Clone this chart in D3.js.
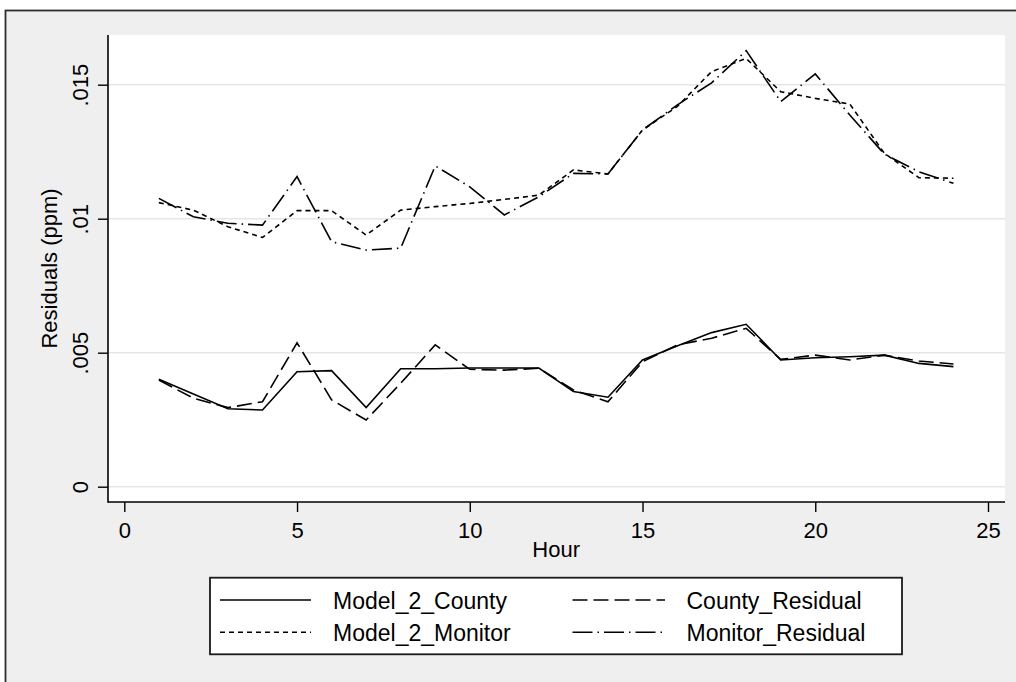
<!DOCTYPE html>
<html>
<head>
<meta charset="utf-8">
<script src="https://cdn.jsdelivr.net/npm/d3@7"></script>
<style>
  html, body { margin: 0; padding: 0; background: #ffffff; }
  svg { display: block; }
  text { font-family: "Liberation Sans", Arial, sans-serif; fill: #000; }
</style>
</head>
<body>
<svg id="chart" width="1016" height="682"></svg>
<script>
// Hourly residuals (ppm) for the two models and their residual series
const hours = [1,2,3,4,5,6,7,8,9,10,11,12,13,14,15,16,17,18,19,20,21,22,23,24];

const model2County = [0.00401,0.00346,0.00291,0.00286,0.00429,0.00433,0.00295,0.00440,0.00440,0.00443,0.00443,0.00443,
                      0.00355,0.00334,0.00473,0.00525,0.00575,0.00606,0.00473,0.00481,0.00485,0.00491,0.00460,0.00448];
const countyResidual = [0.00398,0.00330,0.00295,0.00317,0.00537,0.00324,0.00249,0.00386,0.00529,0.00438,0.00435,0.00442,
                        0.00361,0.00317,0.00466,0.00529,0.00554,0.00591,0.00475,0.00491,0.00473,0.00491,0.00469,0.00458];
const model2Monitor = [0.01060,0.01032,0.00970,0.00930,0.01030,0.01030,0.00939,0.01032,0.01045,0.01057,0.01072,0.01088,
                       0.01182,0.01167,0.01331,0.01418,0.01549,0.01598,0.01474,0.01449,0.01428,0.01244,0.01153,0.01151];
const monitorResidual = [0.01076,0.01007,0.00983,0.00976,0.01157,0.00914,0.00883,0.00890,0.01197,0.01119,0.01014,0.01082,
                         0.01169,0.01167,0.01331,0.01424,0.01507,0.01627,0.01437,0.01540,0.01387,0.01241,0.01175,0.01132];

const xTicks = [0, 5, 10, 15, 20, 25];
const yTicks = [0, 0.005, 0.01, 0.015];
const yTickLabels = ["0", ".005", ".01", ".015"];

const seriesNames = ["Model_2_County", "County_Residual", "Model_2_Monitor", "Monitor_Residual"];
const seriesValues = [model2County, countyResidual, model2Monitor, monitorResidual];
const seriesDash = [null, "15,6", "5,4", "20,5,1.5,5"];

const svg = d3.select("#chart");

// outer graph region with frame
svg.append("rect")
  .attr("x", 5.5).attr("y", 10.5)
  .attr("width", 1100).attr("height", 1000)
  .attr("fill", "#efefef")
  .attr("stroke", "#2e2e2e").attr("stroke-width", 1.8);

// plot region
const plot = { left: 108, top: 35, right: 1005, bottom: 502 };
svg.append("rect")
  .attr("x", plot.left).attr("y", plot.top)
  .attr("width", plot.right - plot.left).attr("height", plot.bottom - plot.top)
  .attr("fill", "#ffffff");

const x = d3.scaleLinear().domain([0, 25]).range([124.3, 988]);
const y = d3.scaleLinear().domain([0, 0.015]).range([486.7, 84.7]);

// horizontal grid lines
svg.append("g").selectAll("line").data(yTicks).join("line")
  .attr("x1", plot.left).attr("x2", plot.right)
  .attr("y1", d => y(d)).attr("y2", d => y(d))
  .attr("stroke", "#e6e6e6").attr("stroke-width", 1.5);

const tickFont = "22px";

// y axis
const yAxis = svg.append("g")
  .attr("transform", `translate(${plot.left},0)`)
  .call(d3.axisLeft(y).tickValues(yTicks).tickSize(10).tickPadding(0)
        .tickFormat((d, i) => yTickLabels[i]));
yAxis.select(".domain").remove();
yAxis.selectAll(".tick line").attr("stroke", "#000").attr("stroke-width", 1.4);
yAxis.selectAll(".tick text")
  .attr("x", 0).attr("y", 0)
  .attr("transform", "translate(-20,0) rotate(-90)")
  .attr("text-anchor", "middle")
  .attr("dy", 0)
  .style("font-size", tickFont)
  .style("font-family", "'Liberation Sans', Arial, sans-serif");

// x axis
const xAxis = svg.append("g")
  .attr("transform", `translate(0,${plot.bottom})`)
  .call(d3.axisBottom(x).tickValues(xTicks).tickSize(10).tickPadding(0)
        .tickFormat(d3.format("d")));
xAxis.select(".domain").remove();
xAxis.selectAll(".tick line").attr("stroke", "#000").attr("stroke-width", 1.4);
xAxis.selectAll(".tick text")
  .attr("y", 36).attr("dy", 0)
  .style("font-size", tickFont)
  .style("font-family", "'Liberation Sans', Arial, sans-serif");

// axis lines
svg.append("line")
  .attr("x1", plot.left).attr("x2", plot.left)
  .attr("y1", plot.top).attr("y2", plot.bottom + 0.7)
  .attr("stroke", "#000").attr("stroke-width", 1.6);
svg.append("line")
  .attr("x1", plot.left).attr("x2", plot.right)
  .attr("y1", plot.bottom).attr("y2", plot.bottom)
  .attr("stroke", "#000").attr("stroke-width", 1.6);

// axis titles
svg.append("text")
  .attr("x", (x(0) + x(25)) / 2).attr("y", 557)
  .attr("text-anchor", "middle")
  .style("font-size", "22px")
  .text("Hour");
svg.append("text")
  .attr("transform", `translate(57,${(plot.top + plot.bottom) / 2}) rotate(-90)`)
  .attr("text-anchor", "middle")
  .style("font-size", "22px")
  .text("Residuals (ppm)");

// series lines
const line = d3.line()
  .x((d, i) => x(hours[i]))
  .y(d => y(d));

svg.append("g").selectAll("path").data(seriesValues).join("path")
  .attr("d", d => line(d))
  .attr("fill", "none")
  .attr("stroke", "#000")
  .attr("stroke-width", 1.6)
  .attr("stroke-linejoin", "miter")
  .attr("stroke-dasharray", (d, i) => seriesDash[i]);

// legend
const legend = svg.append("g");
legend.append("rect")
  .attr("x", 210).attr("y", 577.7)
  .attr("width", 692).attr("height", 76.6)
  .attr("fill", "#ffffff")
  .attr("stroke", "#1a1a1a").attr("stroke-width", 1.8);

const legendRows = [600, 632.3];
const legendCols = [{ x1: 220, x2: 311, tx: 333 }, { x1: 572.5, x2: 665, tx: 686.5 }];
// legend order: row-wise, two columns
seriesNames.forEach((name, i) => {
  const col = legendCols[i % 2];
  const rowY = legendRows[Math.floor(i / 2)];
  legend.append("line")
    .attr("x1", col.x1).attr("x2", col.x2)
    .attr("y1", rowY).attr("y2", rowY)
    .attr("stroke", "#000").attr("stroke-width", 1.6)
    .attr("stroke-dasharray", seriesDash[i]);
  legend.append("text")
    .attr("x", col.tx).attr("y", rowY + 9)
    .style("font-size", "23px")
    .text(name);
});
</script>
</body>
</html>
